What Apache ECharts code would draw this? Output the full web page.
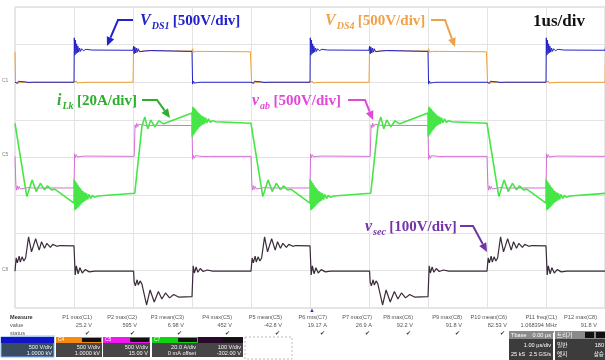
<!DOCTYPE html>
<html>
<head>
<meta charset="utf-8">
<script src="https://cdn.jsdelivr.net/npm/echarts@6/dist/echarts.min.js"></script>
<style>html,body{margin:0;padding:0;background:#fff}#scope{width:605px;height:360px}</style>
</head>
<body>
<div id="scope"></div>
<script>
// 示波器通道: C1 VDS1, C4 VDS4, C5 vab, C7 iLk, C8 vsec
const chScale = [500, 500, 500, 20, 100];      // 每格
const chOffset = [1000, 1000, 15, 0, -302];    // 偏置
const chColor = ['#2323c8', '#f0a035', '#d670d6', '#45e645', '#3b2b3b'];
const period = 4; // us

// 一个周期 [t(us), 值]
const vds1Per = [
  [0.00, 0], [0.02, 18], [0.04, -15], [0.06, 14], [0.08, -10], [0.10, 9], [0.13, -6], [0.17, 5], [0.22, -3], [0.30, 0],
  [1.00, 0], [1.005, 590], [1.015, 360], [1.025, 560], [1.035, 380], [1.045, 510], [1.055, 390], [1.065, 480],
  [1.08, 400], [1.095, 455], [1.11, 410], [1.13, 445], [1.16, 418], [1.20, 438], [1.30, 428],
  [2.00, 425], [2.01, 480], [2.02, 380], [2.03, 470], [2.045, 390], [2.06, 455], [2.075, 400], [2.09, 445],
  [2.11, 405], [2.14, 430], [2.20, 415], [2.30, 422], [2.95, 410],
  [3.00, 410], [3.01, -25], [3.025, 15], [3.04, -12], [3.06, 8], [3.09, -4], [3.15, 0], [4.00, 0]
];
const vds4Per = [
  [0.00, 405], [0.01, 0], [0.02, -20], [0.035, 12], [0.05, -10], [0.07, 6], [0.10, -3], [0.15, 0],
  [1.00, 0], [1.01, 22], [1.025, -18], [1.04, 15], [1.055, -12], [1.07, 9], [1.09, -6], [1.12, 4], [1.17, -2], [1.25, 0],
  [2.00, 0], [2.01, 470], [2.025, 380], [2.04, 450], [2.06, 395], [2.08, 430], [2.12, 410], [2.20, 418],
  [3.00, 415], [3.01, 445], [3.025, 400], [3.04, 425], [3.07, 410], [3.20, 410], [3.99, 405]
];
const vabPer = [
  [0.00, 0], [0.015, -380], [0.025, -450], [0.04, -390], [0.055, -440], [0.07, -400], [0.09, -432], [0.12, -410],
  [0.16, -425], [0.22, -415], [0.30, -420],
  [1.00, -420], [1.01, 35], [1.025, -15], [1.04, 22], [1.06, -8], [1.08, 12], [1.12, 0], [1.20, 4],
  [2.02, 0], [2.035, 420], [2.05, 380], [2.065, 440], [2.08, 395], [2.10, 425], [2.13, 400], [2.17, 418],
  [2.25, 405], [2.35, 412],
  [3.00, 410], [3.01, -40], [3.025, 15], [3.04, -25], [3.06, 10], [3.09, -10], [3.13, 3], [3.20, -2], [3.30, 0], [4.00, 0]
];
const iLkPer = [
  [0.00, 18.2], [0.01, 19], [0.20, -20.8], [0.29, -11.9], [0.36, -18.1], [0.43, -13.7], [0.50, -17.2], [0.55, -15.1],
  [0.62, -17.2], [0.68, -16.9], [1.00, -24.3],
  [1.005, -11.5], [1.015, -28], [1.025, -12.5], [1.035, -27.5], [1.045, -13.5], [1.055, -27], [1.065, -14.5],
  [1.075, -26.3], [1.085, -15.5], [1.095, -25.6], [1.105, -16.3], [1.115, -25], [1.125, -17], [1.135, -24.3],
  [1.15, -17.8], [1.165, -23.6], [1.18, -18.5], [1.195, -23], [1.21, -19], [1.23, -22.4], [1.25, -19.6],
  [1.28, -21.8], [1.31, -20.1], [1.35, -21.2], [1.40, -20.5],
  [2.03, -19.0], [2.15, 16.3], [2.20, 21.6], [2.25, 15.2], [2.30, 20.0], [2.37, 16.3], [2.44, 19.5], [2.52, 17.9],
  [3.00, 23.7],
  [3.005, 11], [3.015, 27], [3.025, 11.8], [3.035, 26.4], [3.045, 12.8], [3.055, 25.8], [3.065, 13.8],
  [3.075, 25], [3.085, 14.6], [3.095, 24.3], [3.105, 15.4], [3.115, 23.6], [3.125, 16.1], [3.135, 23],
  [3.15, 16.8], [3.165, 22.3], [3.18, 17.4], [3.195, 21.7], [3.21, 17.9], [3.23, 21.2], [3.25, 18.4],
  [3.28, 20.5], [3.31, 18.7], [3.35, 19.6], [3.40, 19], [4.00, 18.2]
];
const vsecPer = [
  [0.00, 0], [0.01, 0], [0.02, 35], [0.04, 22], [0.07, 40], [0.09, 24], [0.12, 38], [0.15, 27], [0.18, 35],
  [0.23, 91], [0.28, 51], [0.35, 86], [0.41, 56], [0.45, 78], [0.50, 61], [0.54, 74], [0.60, 63], [0.64, 71],
  [0.71, 66], [0.76, 68], [1.00, 67],
  [1.01, 67], [1.02, -10], [1.04, 14], [1.07, -7], [1.10, 9], [1.14, -5], [1.19, 4], [1.26, -2], [1.35, 0],
  [2.01, 0], [2.02, -29], [2.04, -39], [2.07, -23], [2.09, -37], [2.12, -26], [2.15, -34],
  [2.23, -90], [2.29, -50], [2.36, -82], [2.43, -54], [2.49, -74], [2.55, -58], [2.62, -71], [2.69, -62],
  [2.77, -69], [3.00, -68],
  [3.01, -68], [3.02, 14], [3.04, -5], [3.07, 11], [3.10, -3], [3.14, 7], [3.19, -1], [3.26, 3], [3.35, 0], [4.00, 0]
];

// 测量表
const measNames = ['P1 max(C1)', 'P2 max(C2)', 'P3 mean(C3)', 'P4 max(C5)', 'P5 mean(C5)', 'P6 rms(C7)',
  'P7 max(C7)', 'P8 max(C6)', 'P9 max(C8)', 'P10 mean(C6)', 'P11 freq(C1)', 'P12 max(C8)'];
const measValues = ['25.2 V', '595 V', '6.98 V', '452 V', '-42.8 V', '19.17 A', '26.9 A', '92.2 V', '91.8 V',
  '82.53 V', '1.068394 MHz', '91.8 V'];
const boxScale = ['500 V/div', '500 V/div', '500 V/div', '20.0 A/div', '100 V/div'];
const boxOffset = ['1.0000 kV', '1.0000 kV', '15.00 V', '0 mA offset', '-302.00 V'];

// 周期重复, 换算成格
function toDiv(per, ch) {
  let out = [];
  [0, 1, 2].forEach(k => {
    per.forEach(p => out.push([p[0] + k * period, (p[1] + chOffset[ch]) / chScale[ch]]));
  });
  return out;
}

let chart = echarts.init(document.getElementById('scope'));

function line(name, data, ch, w) {
  return {
    name: name, type: 'line', data: toDiv(data, ch), showSymbol: false, animation: false,
    clip: true, lineStyle: {color: chColor[ch], width: w || 1}, z: 3
  };
}

// 箭头
function arrow(pts, color) {
  let a = pts[pts.length - 2], b = pts[pts.length - 1];
  let ang = Math.atan2(b[1] - a[1], b[0] - a[0]);
  let L = 9, W = 4;
  let base = [b[0] - L * Math.cos(ang), b[1] - L * Math.sin(ang)];
  let head = [b, [base[0] + W * Math.sin(ang), base[1] - W * Math.cos(ang)],
    [base[0] - W * Math.sin(ang), base[1] + W * Math.cos(ang)]];
  let shaft = pts.slice(0, -1).concat([base]);
  return [
    {type: 'polyline', shape: {points: shaft}, style: {stroke: color, lineWidth: 2, fill: null}, z: 20},
    {type: 'polygon', shape: {points: head}, style: {fill: color}, z: 20}
  ];
}

function label(x, y, main, sub, rest, color) {
  return {
    type: 'text', x: x, y: y, z: 20,
    style: {
      text: '{m|' + main + '}{s|' + sub + '} {r|' + rest + '}', fill: color, verticalAlign: 'middle',
      rich: {
        m: {fontFamily: 'Liberation Serif', fontSize: 16, fontWeight: 'bold', fontStyle: 'italic', lineHeight: 20, fill: color},
        s: {fontFamily: 'Liberation Serif', fontSize: 10, fontWeight: 'bold', fontStyle: 'italic', lineHeight: 10, padding: [10, 0, 0, 1], fill: color},
        r: {fontFamily: 'Liberation Serif', fontSize: 15, fontWeight: 'bold', lineHeight: 20, fill: color}
      }
    }
  };
}

let g = [];
g.push(label(140, 21, 'V', 'DS1', '[500V/div]', '#2222cc'));
g.push(label(325, 21, 'V', 'DS4', '[500V/div]', '#f0a24a'));
g.push(label(57, 101, 'i', 'Lk', '[20A/div]', '#2dae2d'));
g.push(label(252, 101, 'v', 'ab', '[500V/div]', '#e048d8'));
g.push(label(365, 227, 'v', 'sec', '[100V/div]', '#7434a8'));
g.push({type: 'text', x: 533, y: 22, z: 20, style: {text: '1us/div', fill: '#111', verticalAlign: 'middle',
  fontFamily: 'Liberation Serif', fontSize: 17, fontWeight: 'bold'}});
g = g.concat(arrow([[133, 20], [118, 20], [107, 46]], '#2222cc'));
g = g.concat(arrow([[431, 20], [445, 20], [455, 47]], '#f0a24a'));
g = g.concat(arrow([[142, 100], [157, 100], [170, 118]], '#2dae2d'));
g = g.concat(arrow([[348, 100], [365, 100], [373, 120]], '#e048d8'));
g = g.concat(arrow([[460, 226], [473, 226], [487, 252]], '#7434a8'));

// 通道标记
[['C1', 81], ['C5', 155], ['C8', 270]].forEach(m => {
  g.push({type: 'text', x: 2, y: m[1], z: 10, style: {text: m[0], fill: '#888', fontSize: 5,
    fontFamily: 'Liberation Sans', verticalAlign: 'middle'}});
});
g.push({type: 'text', x: 312, y: 310, z: 10, style: {text: '▲', fill: '#2233cc', fontSize: 6, align: 'center', verticalAlign: 'middle'}});

// 测量区
const tf = {fontFamily: 'Liberation Sans', fontSize: 5.6, fill: '#555', verticalAlign: 'middle'};
const measRight = [92, 137, 184, 232, 282, 327, 372, 413, 462, 507, 557, 597];
g.push({type: 'text', x: 10, y: 317, style: Object.assign({}, tf, {text: 'Measure', fontWeight: 'bold', fill: '#333'})});
g.push({type: 'text', x: 10, y: 325, style: Object.assign({}, tf, {text: 'value'})});
g.push({type: 'text', x: 10, y: 333, style: Object.assign({}, tf, {text: 'status'})});
g.push({type: 'line', shape: {x1: 10, y1: 336, x2: 55, y2: 336}, style: {stroke: '#bbb', lineWidth: 1}});
measNames.forEach((n, i) => {
  g.push({type: 'text', x: measRight[i], y: 317, style: Object.assign({}, tf, {text: n, align: 'right'})});
  g.push({type: 'text', x: measRight[i], y: 325, style: Object.assign({}, tf, {text: measValues[i], align: 'right'})});
  g.push({type: 'text', x: measRight[i] - 2, y: 333, style: Object.assign({}, tf, {text: '✔', align: 'right', fill: '#333'})});
});

// 通道框
const boxX = [1, 56, 103, 152, 198];
const boxW = [53, 46, 47, 46, 45];
const boxTop = ['#1212c8', '#f58a10', '#f018f0', '#12d012', '#2a0a2a'];
const boxTag = ['', 'C4', 'C5', 'C7', ''];
const boxBottom = ['#3a4d60', '#464646', '#464646', '#464646', '#464646'];
boxX.forEach((x, i) => {
  g.push({type: 'rect', shape: {x: x, y: 337, width: boxW[i], height: 20}, style: {fill: boxBottom[i],
    stroke: i === 0 ? '#7ab8ff' : null, lineWidth: 1}});
  g.push({type: 'rect', shape: {x: x, y: 337, width: boxW[i], height: 6}, style: {fill: boxTop[i]}});
  if (i > 0) g.push({type: 'rect', shape: {x: x + boxW[i] - 20, y: 338, width: 19, height: 4}, style: {fill: '#111'}});
  g.push({type: 'text', x: x + 2, y: 340, style: Object.assign({}, tf, {text: boxTag[i], fontSize: 5, fill: '#fff'})});
  g.push({type: 'text', x: x + boxW[i] - 2, y: 347, style: Object.assign({}, tf, {text: boxScale[i], align: 'right', fill: '#f4f4f4'})});
  g.push({type: 'text', x: x + boxW[i] - 2, y: 353.5, style: Object.assign({}, tf, {text: boxOffset[i], align: 'right', fill: '#f4f4f4'})});
});
g.push({type: 'rect', shape: {x: 245, y: 337, width: 47, height: 22}, style: {fill: null, stroke: '#bbb', lineDash: [2, 2]}});

// 时基 / 触发框
g.push({type: 'rect', shape: {x: 509, y: 331, width: 44, height: 29}, style: {fill: '#3c3c3c'}});
g.push({type: 'rect', shape: {x: 509, y: 331, width: 44, height: 8}, style: {fill: '#8a8a8a'}});
g.push({type: 'text', x: 511, y: 335, style: Object.assign({}, tf, {text: 'Tbase', fill: '#fff'})});
g.push({type: 'text', x: 551, y: 335, style: Object.assign({}, tf, {text: '0.00 µs', align: 'right', fill: '#fff'})});
g.push({type: 'text', x: 551, y: 345, style: Object.assign({}, tf, {text: '1.00 µs/div', align: 'right', fill: '#fff'})});
g.push({type: 'text', x: 511, y: 354, style: Object.assign({}, tf, {text: '25 kS', fill: '#fff'})});
g.push({type: 'text', x: 551, y: 354, style: Object.assign({}, tf, {text: '2.5 GS/s', align: 'right', fill: '#fff'})});
g.push({type: 'rect', shape: {x: 555, y: 331, width: 50, height: 29}, style: {fill: '#3c3c3c'}});
g.push({type: 'rect', shape: {x: 555, y: 331, width: 50, height: 8}, style: {fill: '#8a8a8a'}});
g.push({type: 'text', x: 557, y: 335, style: Object.assign({}, tf, {text: '트리거', fontFamily: 'Noto Sans CJK KR', fill: '#fff'})});
g.push({type: 'rect', shape: {x: 585, y: 332, width: 9, height: 6}, style: {fill: '#111'}});
g.push({type: 'rect', shape: {x: 596, y: 332, width: 9, height: 6}, style: {fill: '#111'}});
g.push({type: 'text', x: 557, y: 345, style: Object.assign({}, tf, {text: '일반', fontFamily: 'Noto Sans CJK KR', fill: '#fff'})});
g.push({type: 'text', x: 604, y: 345, style: Object.assign({}, tf, {text: '180', align: 'right', fill: '#fff'})});
g.push({type: 'text', x: 557, y: 354, style: Object.assign({}, tf, {text: '엣지', fontFamily: 'Noto Sans CJK KR', fill: '#fff'})});
g.push({type: 'text', x: 604, y: 354, style: Object.assign({}, tf, {text: '상승', align: 'right', fontFamily: 'Noto Sans CJK KR', fill: '#fff'})});

let option = {
  animation: false,
  backgroundColor: '#fff',
  grid: {left: 15, top: 7, width: 595, height: 301, show: true, borderColor: '#cfcfcf', borderWidth: 1},
  xAxis: {
    type: 'value', min: 0, max: 10, interval: 1,
    axisLine: {show: false}, axisTick: {show: false}, axisLabel: {show: false},
    splitLine: {show: true, lineStyle: {color: '#e3e3e3', width: 1}}
  },
  yAxis: {
    type: 'value', min: -4, max: 4, interval: 1,
    axisLine: {show: false}, axisTick: {show: false}, axisLabel: {show: false},
    splitLine: {show: true, lineStyle: {color: '#e3e3e3', width: 1}}
  },
  series: [
    line('VDS4', vds4Per, 1),
    line('VDS1', vds1Per, 0),
    line('vab', vabPer, 2),
    line('iLk', iLkPer, 3, 1.6),
    line('vsec', vsecPer, 4, 1.2)
  ],
  graphic: g
};
chart.setOption(option);
</script>
</body>
</html>
